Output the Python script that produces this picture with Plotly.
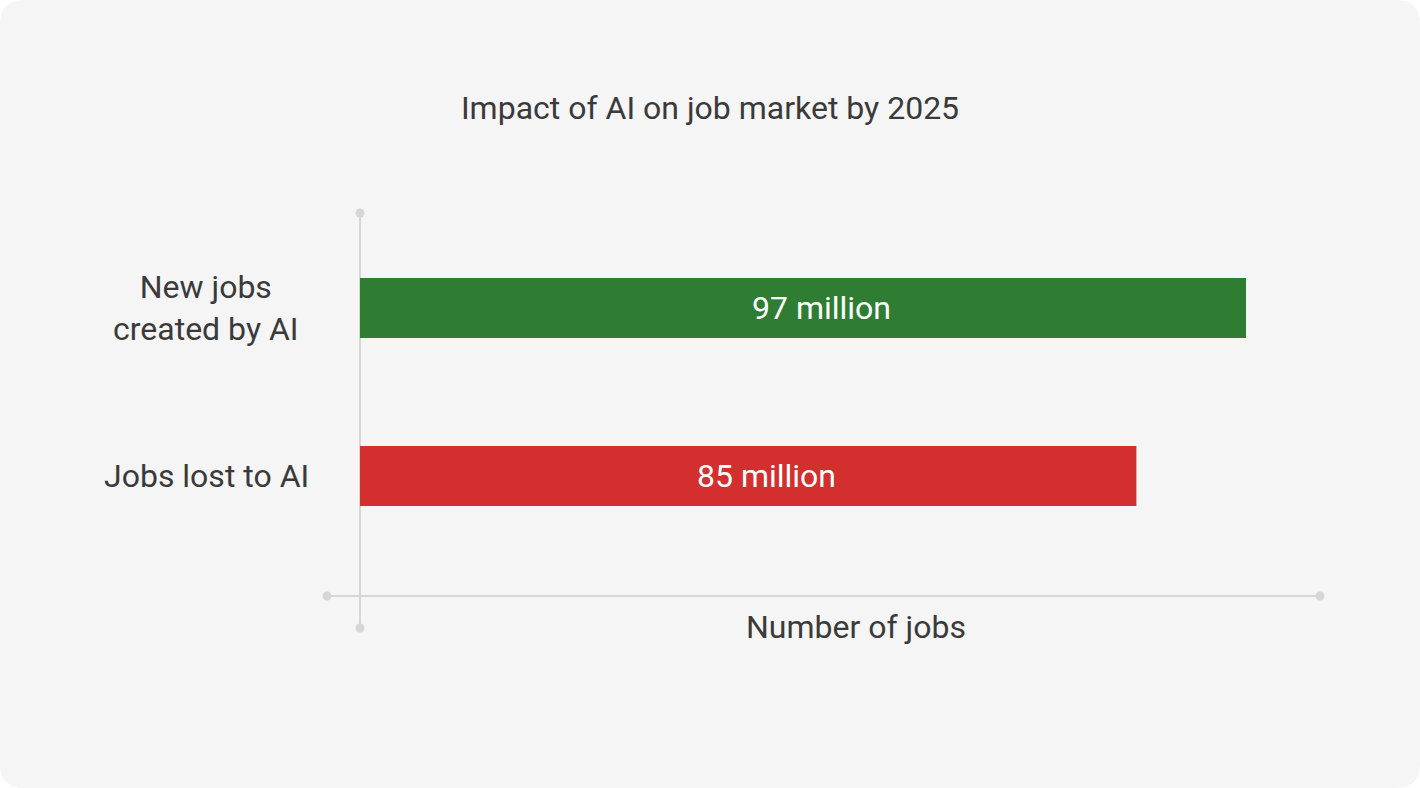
import plotly.graph_objects as go

categories = ["Jobs lost to AI", "New jobs created by AI"]
tick_labels = ["Jobs lost to AI", "New jobs<br>created by AI"]
values = [85, 97]
bar_colors = ["#d32f2f", "#2e7d32"]
title_text = "Impact of AI on job market by 2025"
x_title = "Number of jobs"

W, H = 1420, 788
L, R, T, B = 327, 100, 213, 160
PW, PH = W - L - R, H - T - B

def px(x):
    return (x - L) / PW

def py(y):
    return (H - B - y) / PH

FONT = "Roboto"
FS = 32
TXT = "#3a3a3a"
AXC = "#d6d6d6"

fig = go.Figure()
fig.add_trace(go.Bar(
    y=categories, x=values, orientation="h",
    marker=dict(color=bar_colors, line=dict(width=0)),
    width=0.357,
    hoverinfo="skip",
))

# rounded background
r = 24
x0, x1, y0, y1 = 0, W, 0, H
path = (f"M {px(x0+r)},{py(y0)} L {px(x1-r)},{py(y0)} Q {px(x1)},{py(y0)} {px(x1)},{py(y0+r)} "
        f"L {px(x1)},{py(y1-r)} Q {px(x1)},{py(y1)} {px(x1-r)},{py(y1)} "
        f"L {px(x0+r)},{py(y1)} Q {px(x0)},{py(y1)} {px(x0)},{py(y1-r)} "
        f"L {px(x0)},{py(y0+r)} Q {px(x0)},{py(y0)} {px(x0+r)},{py(y0)} Z")
shapes = [dict(type="path", xref="paper", yref="paper", path=path,
               fillcolor="#f5f5f5", line=dict(width=0), layer="below")]

xaxis_y = py(596)
shapes.append(dict(type="line", xref="x", yref="paper", x0=0, x1=0, y0=0, y1=1,
                   line=dict(color=AXC, width=2), layer="below"))
shapes.append(dict(type="line", xref="paper", yref="paper", x0=0, x1=1, y0=xaxis_y, y1=xaxis_y,
                   line=dict(color=AXC, width=2), layer="below"))

def dot(xref, x, yv):
    return dict(type="circle", xref=xref, yref="paper", xsizemode="pixel", ysizemode="pixel",
                xanchor=x, yanchor=yv, x0=-4.5, x1=4.5, y0=-4.5, y1=4.5,
                fillcolor=AXC, line=dict(width=0), layer="below")
shapes += [dot("x", 0, 0), dot("x", 0, 1), dot("paper", 0, xaxis_y), dot("paper", 1, xaxis_y)]

annotations = []
for c, t in zip(categories, tick_labels):
    annotations.append(dict(text=t, xref="paper", yref="y", x=px(206), y=c,
                            xanchor="center", yanchor="middle", align="center", showarrow=False,
                            font=dict(family=FONT, size=FS, color=TXT)))
for c, v in zip(categories, values):
    annotations.append(dict(text=f"{v} million", xref="x", yref="y", x=v / 2, y=c, xshift=18,
                            xanchor="center", yanchor="middle", showarrow=False,
                            font=dict(family=FONT, size=FS, color="white")))
annotations.append(dict(text=x_title, xref="paper", yref="paper", x=px(856), y=py(627),
                        xanchor="center", yanchor="middle", showarrow=False,
                        font=dict(family=FONT, size=FS, color=TXT)))

fig.update_layout(
    width=W, height=H,
    margin=dict(l=L, r=R, t=T, b=B, pad=0),
    paper_bgcolor="white", plot_bgcolor="rgba(0,0,0,0)",
    title=dict(text=title_text, x=710 / W, xanchor="center", y=1 - 108 / H, yanchor="middle",
               xref="container", yref="container",
               font=dict(family=FONT, size=FS, color=TXT)),
    xaxis=dict(range=[-33 / 9.134, 960 / 9.134], showgrid=False, zeroline=False,
               showticklabels=False, showline=False, ticks=""),
    yaxis=dict(type="category", categoryorder="array", categoryarray=categories,
               range=[-0.905, 1.5655], showgrid=False, zeroline=False,
               showticklabels=False, showline=False, ticks=""),
    shapes=shapes, annotations=annotations, showlegend=False,
    font=dict(family=FONT, color=TXT),
)

fig.write_html("out.html", config={"displayModeBar": False},
               post_script="document.body.style.margin='0';document.body.style.overflow='hidden';")
